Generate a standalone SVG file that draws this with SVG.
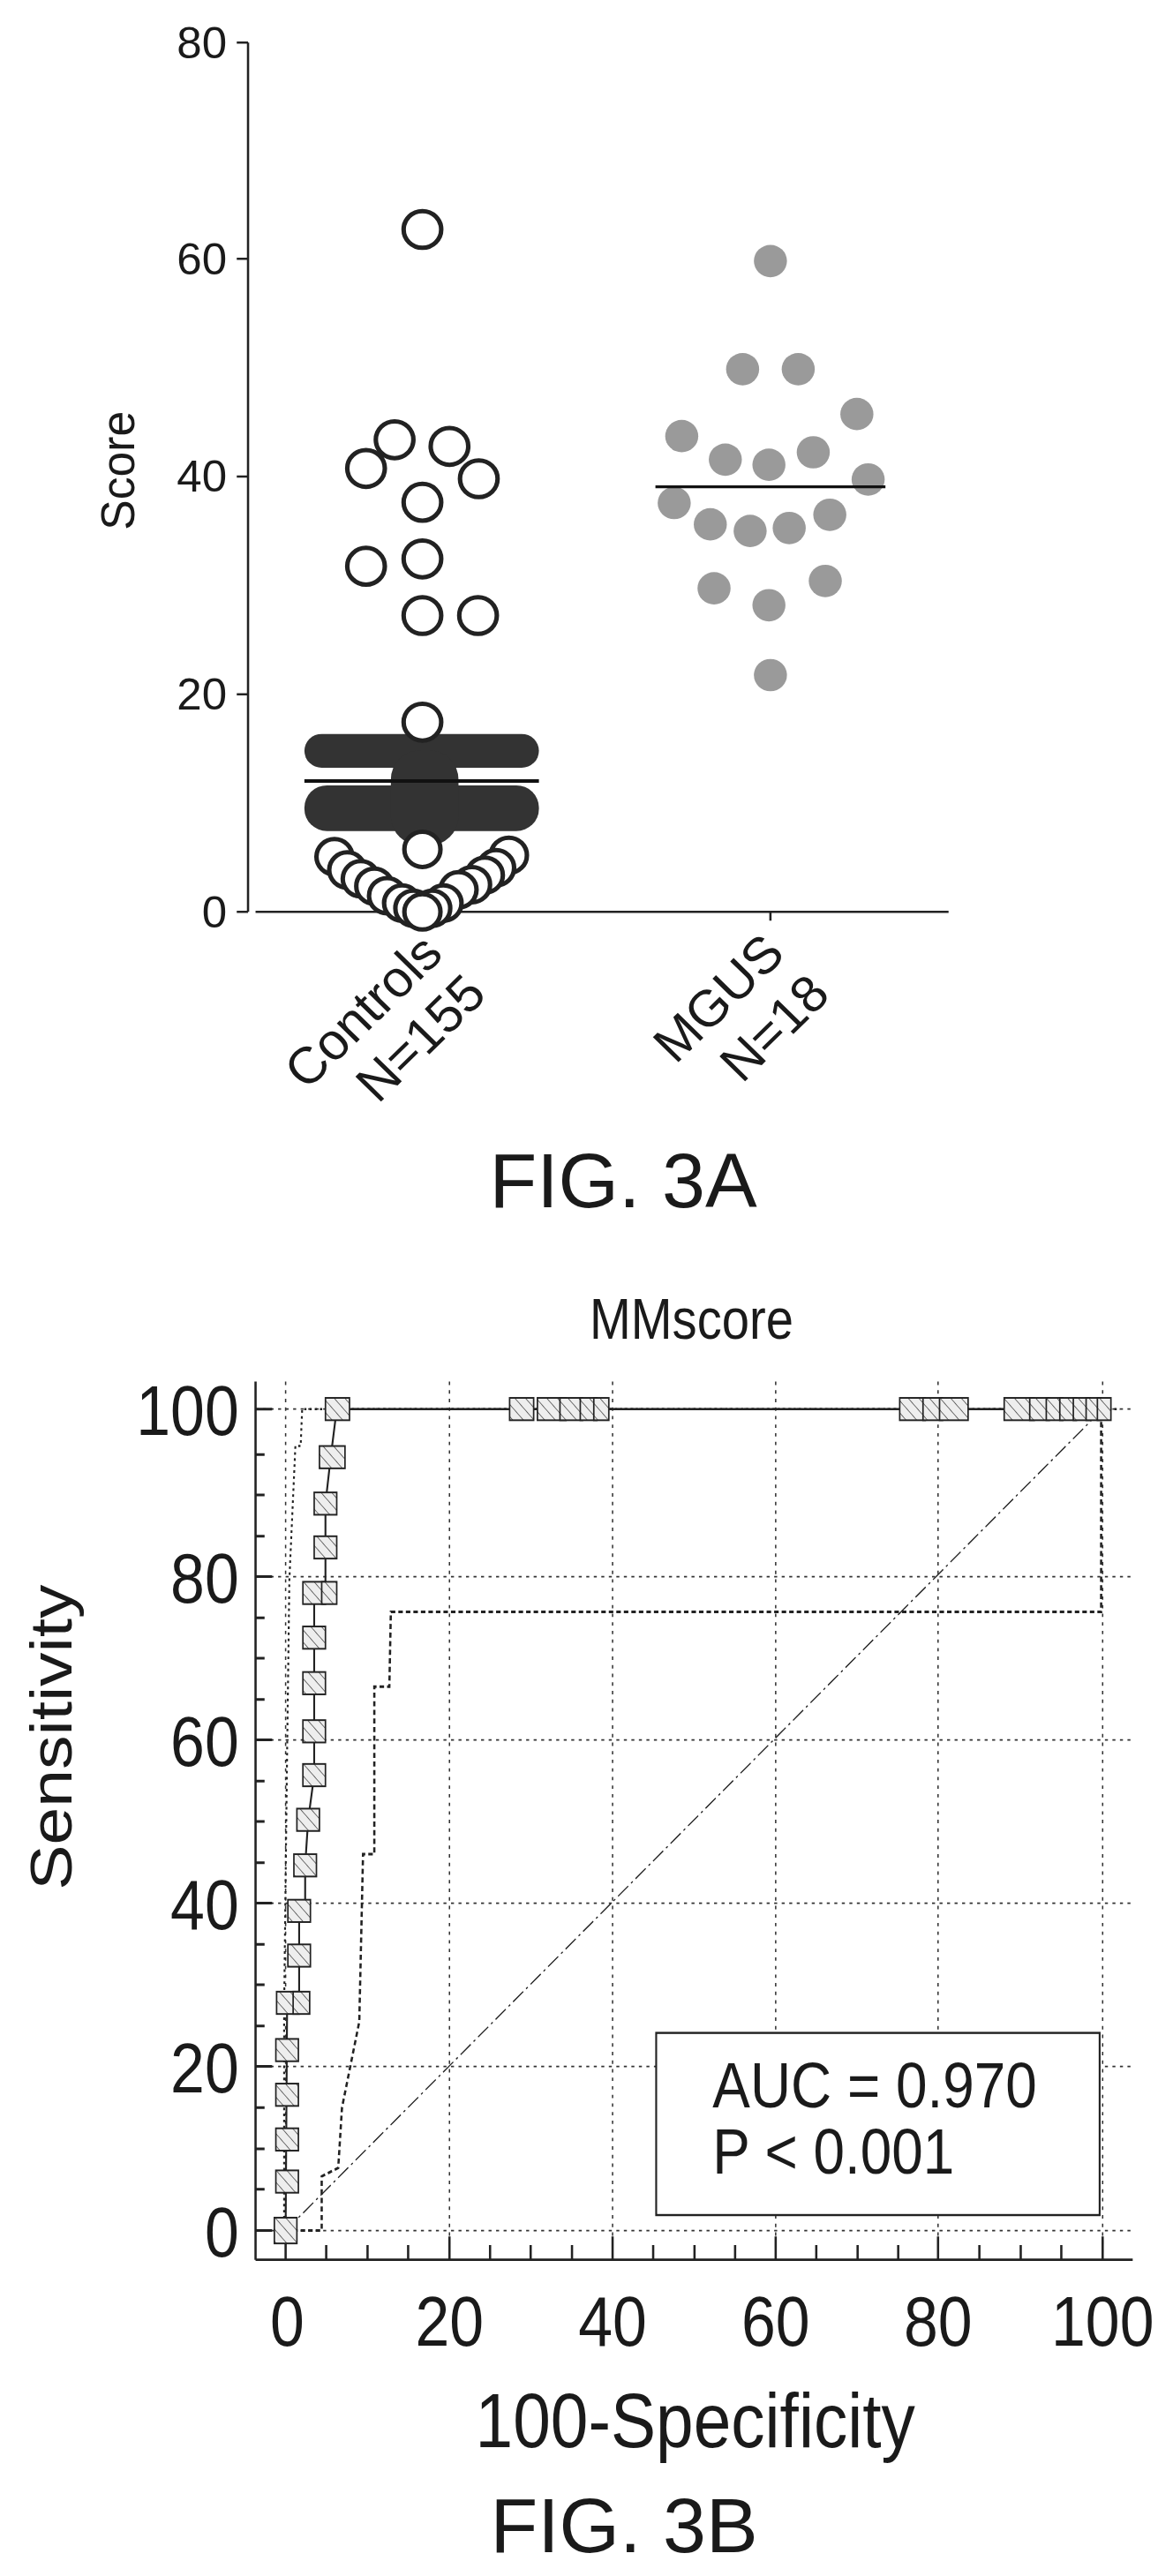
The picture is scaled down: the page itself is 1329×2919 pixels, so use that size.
<svg xmlns="http://www.w3.org/2000/svg" width="1329" height="2919" viewBox="0 0 1329 2919">
<style>
text{font-family:"Liberation Sans",Arial,sans-serif;fill:#1a1a1a}
.oc{fill:#fff;stroke:#222;stroke-width:6}
.gc{fill:#9a9a9a}
.ax{stroke:#222;stroke-width:3;fill:none}
.grid{stroke:#333;stroke-width:1.8;stroke-dasharray:4 6;fill:none}
.sq{fill:url(#hatch);stroke:#222;stroke-width:2}
</style>
<defs>
<pattern id="hatch" width="10" height="10" patternUnits="userSpaceOnUse" patternTransform="rotate(-45)">
<rect width="10" height="10" fill="#eee"/><line x1="0" y1="0" x2="0" y2="10" stroke="#333" stroke-width="1.5"/>
</pattern>
</defs>
<rect width="1329" height="2919" fill="#fff"/>
<g id="fig3a" transform="scale(0.8516,0.8333)">
<g id="axes3a">
<line class="ax" x1="330" y1="58" x2="330" y2="1240"/>
<line class="ax" x1="340" y1="1240" x2="1262" y2="1240"/>
<path class="ax" d="M315 58H330M315 352H330M315 648H330M315 944H330M315 1240H330M1025 1240V1252"/>
<g font-size="60" text-anchor="end">
<text x="302" y="79">80</text><text x="302" y="373">60</text><text x="302" y="669">40</text><text x="302" y="965">20</text><text x="302" y="1261">0</text>
</g>
<text x="0" y="0" font-size="62" text-anchor="middle" transform="translate(178 640) rotate(-90)">Score</text>
<g font-size="70" text-anchor="end">
<text x="592" y="1300" transform="rotate(-45 592 1300)">Controls</text>
<text x="650" y="1355" transform="rotate(-45 650 1355)">N=155</text>
<text x="1047" y="1300" transform="rotate(-45 1047 1300)">MGUS</text>
<text x="1107" y="1355" transform="rotate(-45 1107 1355)">N=18</text>
</g>
</g>
<g id="controls">
<rect x="405" y="998" width="312" height="46" rx="23" fill="#333"/>
<rect x="405" y="1068" width="312" height="62" rx="30" fill="#333"/>
<rect x="520" y="1020" width="90" height="130" rx="40" fill="#333"/>
<g class="oc">
<circle cx="445" cy="1165" r="24"/><circle cx="462" cy="1183" r="24"/><circle cx="480" cy="1195" r="24"/><circle cx="498" cy="1205" r="24"/><circle cx="515" cy="1218" r="24"/><circle cx="535" cy="1228" r="24"/><circle cx="550" cy="1235" r="24"/>
<circle cx="677" cy="1163" r="24"/><circle cx="660" cy="1180" r="24"/><circle cx="645" cy="1190" r="24"/><circle cx="628" cy="1203" r="24"/><circle cx="610" cy="1210" r="24"/><circle cx="590" cy="1228" r="24"/><circle cx="575" cy="1235" r="24"/><circle cx="562" cy="1240" r="24"/>
<circle cx="562" cy="1155" r="24"/>
<circle cx="562" cy="312" r="25"/><circle cx="525" cy="598" r="25"/><circle cx="598" cy="607" r="25"/><circle cx="487" cy="637" r="25"/><circle cx="637" cy="651" r="25"/><circle cx="562" cy="683" r="25"/><circle cx="562" cy="760" r="25"/><circle cx="487" cy="770" r="25"/><circle cx="562" cy="837" r="25"/><circle cx="636" cy="837" r="25"/><circle cx="562" cy="982" r="25"/>
</g>
<line x1="405" y1="1062" x2="717" y2="1062" stroke="#111" stroke-width="5"/>
</g>
<g id="mgus" class="gc">
<circle cx="1025" cy="355" r="22"/><circle cx="988" cy="502" r="22"/><circle cx="1062" cy="502" r="22"/><circle cx="1140" cy="563" r="22"/><circle cx="907" cy="593" r="22"/><circle cx="965" cy="625" r="22"/><circle cx="1023" cy="632" r="22"/><circle cx="1082" cy="615" r="22"/><circle cx="1155" cy="652" r="22"/><circle cx="897" cy="684" r="22"/><circle cx="945" cy="713" r="22"/><circle cx="998" cy="722" r="22"/><circle cx="1050" cy="718" r="22"/><circle cx="1104" cy="700" r="22"/><circle cx="950" cy="800" r="22"/><circle cx="1023" cy="823" r="22"/><circle cx="1098" cy="790" r="22"/><circle cx="1025" cy="918" r="22"/>
<line x1="872" y1="662" x2="1178" y2="662" stroke="#111" stroke-width="4"/>
</g>
</g>
<text x="706" y="1368" font-size="88" text-anchor="middle">FIG. 3A</text>
<g id="fig3b" transform="translate(0,1400) scale(0.8516,0.9737)">
<g id="grid3b" class="grid">
<path d="M380 170V1158M598 170V1192M815 170V1192M1032 170V1192M1248 170V1192M1467 170V1192"/>
<path d="M340 202H1507M340 397H1507M340 587H1507M340 777H1507M340 967H1507M340 1158H1507"/>
</g>
<g id="axes3b">
<line class="ax" x1="340" y1="170" x2="340" y2="1192"/>
<line class="ax" x1="340" y1="1192" x2="1507" y2="1192"/>
<path class="ax" d="M340 1158H362M340 1110H352M340 1063H352M340 1015H352M340 967H362M340 920H352M340 872H352M340 825H352M340 777H362M340 730H352M340 682H352M340 635H352M340 587H362M340 540H352M340 492H352M340 445H352M340 397H362M340 350H352M340 302H352M340 255H352M340 202H362"/>
<path class="ax" d="M380 1192V1165M434 1192V1175M489 1192V1175M543 1192V1175M598 1192V1165M652 1192V1175M706 1192V1175M761 1192V1175M815 1192V1165M869 1192V1175M924 1192V1175M978 1192V1175M1032 1192V1165M1086 1192V1175M1141 1192V1175M1195 1192V1175M1248 1192V1165M1303 1192V1175M1358 1192V1175M1412 1192V1175M1467 1192V1165"/>
<g font-size="82" text-anchor="end">
<text x="318" y="232">100</text><text x="318" y="427">80</text><text x="318" y="617">60</text><text x="318" y="807">40</text><text x="318" y="997">20</text><text x="318" y="1188">0</text>
</g>
<g font-size="82" text-anchor="middle">
<text x="382" y="1292">0</text><text x="598" y="1292">20</text><text x="815" y="1292">40</text><text x="1032" y="1292">60</text><text x="1248" y="1292">80</text><text x="1467" y="1292">100</text>
</g>
<text x="920" y="120" font-size="66" text-anchor="middle">MMscore</text>
<text x="925" y="1410" font-size="90" text-anchor="middle">100-Specificity</text>
<text x="0" y="0" font-size="79" text-anchor="middle" transform="translate(95 584) rotate(-90)">Sensitivity</text>
</g>
<g id="curves" fill="none">
<line x1="380" y1="1158" x2="1467" y2="202" stroke="#222" stroke-width="1.5" stroke-dasharray="18 5 3 5"/>
<path d="M380 1158H428V1095L450 1085L455 1015L478 915L483 720H498V525H518L520 438H1465V205" stroke="#222" stroke-width="3" stroke-dasharray="6 4"/>
<path d="M378 1158V900L382 600L385 400L393 245V245H400L402 202H1490" stroke="#222" stroke-width="2.5" stroke-dasharray="3 4"/>
<path d="M380 1158L382 893H398V786H406V733L410 680L418 628V416H433V312L440 258L448 202H1467" stroke="#222" stroke-width="2.5"/>
</g>
<g id="squares" class="sq">
<rect x="365" y="1143" width="30" height="30"/><rect x="367" y="1088" width="30" height="26"/><rect x="367" y="1039" width="30" height="26"/><rect x="367" y="987" width="30" height="26"/><rect x="367" y="935" width="30" height="26"/>
<rect x="368" y="880" width="30" height="26"/><rect x="390" y="880" width="22" height="26"/><rect x="383" y="825" width="30" height="26"/><rect x="383" y="773" width="30" height="26"/><rect x="391" y="720" width="30" height="26"/><rect x="395" y="667" width="30" height="26"/>
<rect x="403" y="615" width="30" height="26"/><rect x="403" y="564" width="30" height="26"/><rect x="403" y="508" width="30" height="26"/><rect x="403" y="455" width="30" height="26"/><rect x="403" y="403" width="30" height="26"/><rect x="428" y="403" width="20" height="26"/>
<rect x="418" y="350" width="30" height="26"/><rect x="418" y="299" width="30" height="26"/><rect x="425" y="245" width="34" height="26"/><rect x="433" y="189" width="32" height="26"/>
<rect x="678" y="189" width="32" height="26"/><rect x="715" y="189" width="38" height="26"/><rect x="745" y="189" width="30" height="26"/><rect x="772" y="189" width="22" height="26"/><rect x="790" y="189" width="20" height="26"/>
<rect x="1197" y="189" width="34" height="26"/><rect x="1228" y="189" width="26" height="26"/><rect x="1250" y="189" width="38" height="26"/>
<rect x="1336" y="189" width="40" height="26"/><rect x="1370" y="189" width="26" height="26"/><rect x="1392" y="189" width="22" height="26"/><rect x="1410" y="189" width="22" height="26"/><rect x="1428" y="189" width="22" height="26"/><rect x="1445" y="189" width="20" height="26"/><rect x="1460" y="189" width="18" height="26"/>
</g>
<g id="legend">
<rect x="873" y="928" width="590" height="212" fill="#fff" stroke="#222" stroke-width="2.5"/>
<text x="948" y="1015" font-size="75">AUC = 0.970</text>
<text x="948" y="1092" font-size="75">P &lt; 0.001</text>
</g>
</g>
<text x="707" y="2892" font-size="88" text-anchor="middle">FIG. 3B</text>
</svg>
